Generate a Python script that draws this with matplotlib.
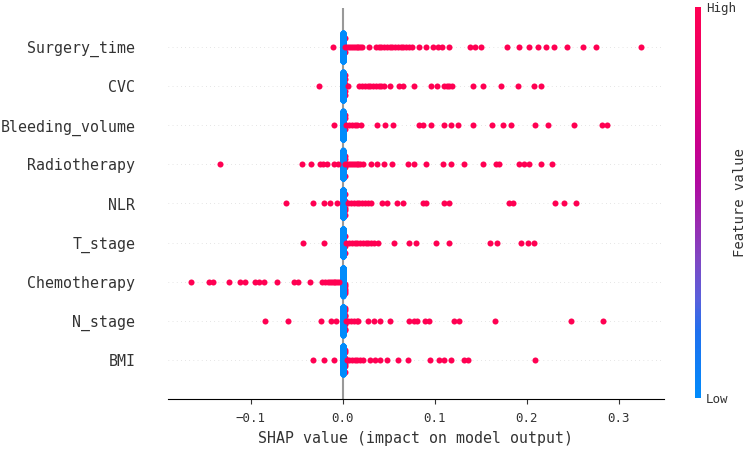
import numpy as np
import matplotlib
matplotlib.use("Agg")
import matplotlib.pyplot as plt
from matplotlib.colors import LinearSegmentedColormap
from matplotlib.cm import ScalarMappable

plt.rcParams['font.family'] = ['DejaVu Sans Mono']

features = ["Surgery_time", "CVC", "Bleeding_volume", "Radiotherapy", "NLR",
            "T_stage", "Chemotherapy", "N_stage", "BMI"]

# shap values of the samples with a high feature value (red dots)
surgery_time = [-0.011, 0.003, 0.005, 0.007, 0.009, 0.011, 0.013, 0.015, 0.017, 0.019,
                0.021, 0.029, 0.036, 0.039, 0.042, 0.045, 0.048, 0.051, 0.054, 0.057,
                0.060, 0.063, 0.066, 0.069, 0.072, 0.075, 0.083, 0.091, 0.098, 0.104,
                0.108, 0.116, 0.138, 0.144, 0.150, 0.179, 0.192, 0.203, 0.212, 0.221,
                0.230, 0.244, 0.261, 0.275, 0.324]
cvc = [-0.026, 0.006, 0.018, 0.021, 0.024, 0.027, 0.030, 0.033, 0.036, 0.039, 0.042,
       0.045, 0.051, 0.061, 0.066, 0.078, 0.096, 0.102, 0.110, 0.113, 0.116, 0.119,
       0.142, 0.153, 0.172, 0.191, 0.208, 0.216]
bleeding_volume = [-0.009, 0.004, 0.007, 0.010, 0.013, 0.016, 0.020, 0.037, 0.046,
                   0.055, 0.083, 0.087, 0.096, 0.110, 0.118, 0.125, 0.142, 0.162,
                   0.174, 0.183, 0.209, 0.223, 0.251, 0.282, 0.287]
radiotherapy = [-0.133, -0.044, -0.034, -0.025, -0.021, -0.017, -0.009, -0.005, 0.003,
                0.005, 0.007, 0.009, 0.011, 0.013, 0.015, 0.017, 0.019, 0.022, 0.031,
                0.037, 0.045, 0.054, 0.071, 0.078, 0.091, 0.109, 0.118, 0.132, 0.153,
                0.167, 0.170, 0.192, 0.197, 0.202, 0.215, 0.227]
nlr = [-0.062, -0.032, -0.020, -0.014, -0.006, 0.006, 0.009, 0.012, 0.015, 0.018,
       0.021, 0.024, 0.027, 0.031, 0.043, 0.048, 0.059, 0.066, 0.087, 0.091, 0.110,
       0.115, 0.181, 0.185, 0.231, 0.240, 0.254]
t_stage = [-0.043, -0.020, 0.004, 0.007, 0.010, 0.013, 0.016, 0.019, 0.022, 0.025,
           0.028, 0.031, 0.034, 0.038, 0.056, 0.072, 0.080, 0.101, 0.115, 0.160,
           0.168, 0.194, 0.201, 0.208]
chemotherapy = [-0.165, -0.145, -0.141, -0.124, -0.112, -0.106, -0.095, -0.091, -0.086,
                -0.071, -0.053, -0.049, -0.036, -0.022, -0.019, -0.016, -0.014, -0.012,
                -0.010, -0.008, -0.006, -0.004]
n_stage = [-0.085, -0.060, -0.024, -0.013, -0.007, 0.004, 0.006, 0.009, 0.012, 0.015,
           0.017, 0.028, 0.034, 0.040, 0.051, 0.072, 0.077, 0.081, 0.089, 0.094,
           0.121, 0.126, 0.166, 0.248, 0.283]
bmi = [-0.032, -0.020, -0.009, 0.005, 0.007, 0.010, 0.013, 0.016, 0.019, 0.022, 0.030,
       0.035, 0.040, 0.048, 0.060, 0.071, 0.095, 0.105, 0.110, 0.118, 0.132, 0.136, 0.209]

high_shap = [surgery_time, cvc, bleeding_volume, radiotherapy, nlr,
             t_stage, chemotherapy, n_stage, bmi]
# high samples that sit in the zero column with the blue ones
high_at_zero = [2, 5, 3, 4, 5, 3, 5, 8, 6]
n_samples = 300   # the rest are low-value samples with shap = 0

red_blue = LinearSegmentedColormap.from_list("red_blue", [
    (0.00, "#008BFB"), (0.17, "#2070EE"), (0.25, "#5860DC"), (0.35, "#7E48C4"),
    (0.45, "#9A2AB0"), (0.55, "#B00AA0"), (0.65, "#C8008C"), (0.80, "#E5006E"),
    (1.00, "#FF0052")])


def stack_layers(n):
    # shap style: 0, +1, -1, +2, -2 ...
    k = np.arange(n)
    return np.ceil(k / 2) * ((k % 2) * 2 - 1)


fig = plt.figure(figsize=(7.5, 4.49), dpi=100)
ax = fig.add_axes([168 / 750, 50 / 449, 496 / 750, 391 / 449])

nf = len(features)
for i, name in enumerate(features):
    pos = nf - 1 - i
    ax.axhline(pos, color="#cccccc", lw=0.5, dashes=(1, 5), zorder=-1)

    red = np.array(high_shap[i])
    n_red0 = high_at_zero[i]
    n_zero = n_samples - len(red)

    # zero column: blue ones with a few red ones mixed in
    layers = stack_layers(n_zero)
    red_slots = np.linspace(0, n_zero - 1, n_red0 + 2)[1:-1].astype(int)
    is_red0 = np.zeros(n_zero, bool)
    is_red0[red_slots] = True

    # other red dots: stacked per bin
    span = max(red.max(), 0) - min(red.min(), 0)
    q = np.round(100 * red / span)
    ys_red = np.zeros(len(red))
    for b in np.unique(q):
        idx = np.where(q == b)[0]
        ys_red[idx] = stack_layers(len(idx))

    scale = 0.9 * 0.4 / (np.max(layers) + 1)
    ys_zero = layers * scale
    ys_red = ys_red * scale

    ax.scatter(np.full(n_red0, 0.002), pos + ys_zero[is_red0], s=19, c=[red_blue(1.0)],
               linewidth=0, zorder=2)
    ax.scatter(np.zeros((~is_red0).sum()), pos + ys_zero[~is_red0], s=19,
               c=[red_blue(0.0)], linewidth=0, zorder=3)
    ax.scatter(red, pos + ys_red, s=19, c=[red_blue(1.0)], linewidth=0, zorder=4)

ax.axvline(0, color="#999999", zorder=-1)

ax.set_xlim(-0.1899, 0.3492)
ax.set_ylim(-1, nf)
ax.set_yticks(range(nf))
ax.set_yticklabels(features[::-1], fontsize=10.7, color="#333333")
ax.tick_params(axis="y", length=0, pad=23.5)
ax.set_xticks([-0.1, 0.0, 0.1, 0.2, 0.3])
ax.set_xticklabels(["\u22120.1", "0.0", "0.1", "0.2", "0.3"])
ax.tick_params(axis="x", labelsize=9, pad=6, color="#333333", labelcolor="#333333")
ax.set_xlabel("SHAP value (impact on model output)", fontsize=10.7, color="#333333",
              labelpad=4)
for s in ["top", "right", "left"]:
    ax.spines[s].set_visible(False)

cax = fig.add_axes([695 / 750, 51 / 449, 6 / 750, 391 / 449])
sm = ScalarMappable(cmap=red_blue)
sm.set_array([0, 1])
cb = fig.colorbar(sm, cax=cax, ticks=[0, 1])
cb.set_ticklabels(["Low", "High"])
cb.ax.tick_params(labelsize=9, length=0, labelcolor="#333333")
cb.outline.set_visible(False)
cb.set_label("Feature value", size=10, labelpad=-2, color="#333333")

fig.savefig("out.png", dpi=100)
